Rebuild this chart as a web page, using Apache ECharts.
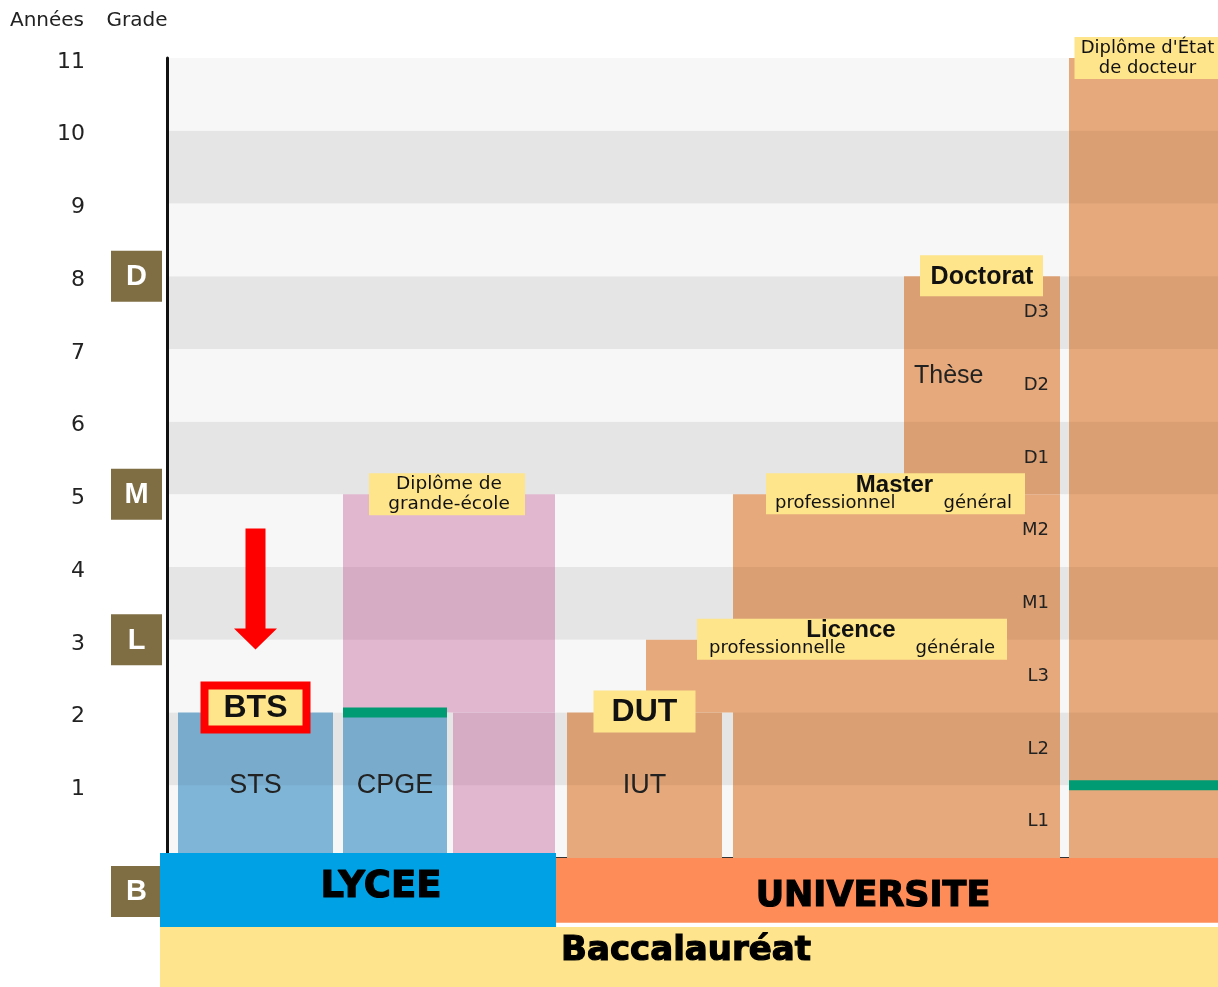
<!DOCTYPE html>
<html><head><meta charset="utf-8">
<script src="https://cdn.jsdelivr.net/npm/echarts@6/dist/echarts.min.js"></script>
<style>html,body{margin:0;padding:0;background:#fff}#c{width:1218px;height:987px}</style>
</head><body><div id="c"></div>
<script>
// ---------- data ----------
const yearTicks = [1,2,3,4,5,6,7,8,9,10,11];
const gradeNames = ['D','M','L','B'];
const gradeYears = [8,5,3,-0.46];
// program columns (x in abstract column units, y in years after the bac)
const programNames  = ['STS','CPGE','Grande école','Grande école','IUT','Licence','Master','Doctorat',"Doctorat d'État"];
const programStart  = [1.1, 17.6, 17.6, 28.6, 40.0, 47.9, 56.6, 73.7, 90.2];
const programEnd    = [16.6, 28.0, 38.8, 38.8, 55.5, 89.3, 89.3, 89.3, 105.1];
const programFrom   = [0, 0, 2, 0, 0, 2, 0, 5, 0];
const programTo     = [2, 2, 5, 2, 2, 3, 5, 8, 11];
const programFamily = ['lycee','lycee','ecole','ecole','univ','univ','univ','univ','univ'];
const diplomaNames   = ['BTS','Diplôme de\ngrande-école','DUT','Licence','Master','Doctorat',"Diplôme d'État\nde docteur"];
const diplomaTracks  = ['','','','professionnelle|générale','professionnel|général','',''];
const diplomaProgram = [0, 2, 4, 5, 6, 7, 8];
const innerNames   = ['STS','CPGE','IUT','Thèse'];
const innerProgram = [0, 1, 4, 7];
const innerYears   = [1, 1, 1, 6.62];
const yearCodes      = ['L1','L2','L3','M1','M2','D1','D2','D3'];
const yearCodeValues = [0.5,1.5,2.5,3.5,4.5,5.5,6.5,7.5];
const bridgeProgram = [1, 8];
const bridgeYears   = [2, 1];
const baseNames = ['LYCEE','UNIVERSITE','Baccalauréat'];
const baseStart = [-0.7, 38.9, -0.7];
const baseEnd   = [38.9, 105.1, 105.1];
const baseFrom  = [-0.95, -0.89, -2.0];
const baseTo    = [0.07, 0, -0.95];
const shadedYears = [1,3,5,7,9];

// ---------- styles ----------
const FAMILY_COLORS = {lycee:'#7fb5d7', ecole:'#e1b6cf', univ:'#e6a97b'};
const BASE_COLORS = ['#00a2e5','#fd8c58','#fee48c'];
const YELLOW = '#fee58b';
const LS = '"Liberation Sans", Arial, sans-serif';
const DV = '"DejaVu Sans", sans-serif';

function box(x, y, w, h, fill) { return {type:'rect', shape:{x:x, y:y, width:w, height:h}, style:{fill:fill}}; }
function txt(x, y, text, font, align, extra) {
  return {type:'text', x:x, y:y, style:Object.assign({text:text, font:font, fill:'#111', align:align || 'center', verticalAlign:'middle'}, extra || {})};
}
function colCenter(api, p) {
  const a = api.coord([programStart[p], 0]), b = api.coord([programEnd[p], 0]);
  return (a[0] + b[0]) / 2;
}

const chart = echarts.init(document.getElementById('c'));
const option = {
  animation: false,
  grid: {left:167, right:0, top:58, bottom:129},
  xAxis: {type:'value', min:0, max:105.1,
    axisLine:{show:true, lineStyle:{color:'#333', width:2}},
    axisTick:{show:false}, axisLabel:{show:false}, splitLine:{show:false}},
  yAxis: {type:'value', min:0, max:11, interval:1,
    axisLine:{show:true, lineStyle:{color:'#111', width:3}},
    axisTick:{show:false}, splitLine:{show:false},
    splitArea:{show:true, areaStyle:{color:['#f7f7f7','#f2f2f2']}},
    axisLabel:{margin:82, fontFamily:'DejaVu Sans', fontSize:22, color:'#222', verticalAlign:'top', lineHeight:8,
      formatter: v => yearTicks.indexOf(v) >= 0 ? String(v) : ''}},
  graphic: [
    {type:'text', x:47, y:21, style:{text:'Années', font:'20px '+DV, fill:'#222', align:'center', verticalAlign:'middle'}},
    {type:'text', x:137, y:21, style:{text:'Grade', font:'20px '+DV, fill:'#222', align:'center', verticalAlign:'middle'}}
  ],
  series: [
    { // program blocks
      type:'custom', z:2, silent:true, clip:false,
      data: programNames.map((n,i) => [programStart[i], programEnd[i], programFrom[i], programTo[i], i]),
      renderItem: (params, api) => {
        const i = api.value(4);
        const a = api.coord([api.value(0), api.value(3)]);
        const b = api.coord([api.value(1), api.value(2)]);
        return box(a[0], a[1], b[0]-a[0], b[1]-a[1], FAMILY_COLORS[programFamily[i]]);
      }
    },
    { // band shading over everything in the plot
      type:'custom', z:3, silent:true,
      data: shadedYears.map(y => [y]),
      renderItem: (params, api) => {
        const cs = params.coordSys;
        const a = api.coord([0, api.value(0) + 1]);
        const b = api.coord([0, api.value(0)]);
        return box(cs.x, a[1], cs.width, b[1]-a[1], 'rgba(0,0,0,0.05)');
      }
    },
    { // passerelles (green)
      type:'custom', z:4, silent:true, clip:false,
      data: bridgeProgram.map((p,i) => [i]),
      renderItem: (params, api) => {
        const i = api.value(0), p = bridgeProgram[i];
        const a = api.coord([programStart[p], bridgeYears[i]]);
        const b = api.coord([programEnd[p], bridgeYears[i]]);
        return box(a[0], a[1]-5, b[0]-a[0], 10, '#009b72');
      }
    },
    { // names inside columns
      type:'custom', z:4, silent:true, clip:false,
      data: innerNames.map((n,i) => [i]),
      renderItem: (params, api) => {
        const i = api.value(0), p = innerProgram[i];
        const y = api.coord([0, innerYears[i]])[1];
        if (innerNames[i] === 'Thèse') {
          const x0 = api.coord([programStart[p], 0])[0];
          return txt(x0 + 10, y, innerNames[i], '25px '+LS, 'left', {fill:'#222'});
        }
        return txt(colCenter(api, p), y, innerNames[i], '27px '+LS, 'center', {fill:'#222'});
      }
    },
    { // year codes L1..D3
      type:'custom', z:4, silent:true,
      data: yearCodes.map((c,i) => [i]),
      renderItem: (params, api) => {
        const i = api.value(0);
        const x = api.coord([programEnd[6], 0])[0] - 11;
        const y = api.coord([0, yearCodeValues[i]])[1];
        return txt(x, y, yearCodes[i], '18px '+DV, 'right', {fill:'#222'});
      }
    },
    { // diploma labels
      type:'custom', z:5, silent:true, clip:false,
      data: diplomaNames.map((n,i) => [i]),
      renderItem: (params, api) => {
        const i = api.value(0), p = diplomaProgram[i];
        const name = diplomaNames[i];
        const cx = colCenter(api, p);
        const cy = api.coord([0, programTo[p]])[1];
        const ch = [];
        if (name === 'BTS') {
          const y = cy - 5;
          ch.push(box(cx-55, y-26, 110, 52, '#ff0000'));
          ch.push(box(cx-47, y-18, 94, 36, YELLOW));
          ch.push(txt(cx, y+1, name, 'bold 32px '+LS));
          // red arrow pointing at the BTS label
          const tx = cx, ty = y - 26 - 32;
          ch.push({type:'polygon', shape:{points:[[tx-10,ty-121],[tx+10,ty-121],[tx+10,ty-21],[tx+21.5,ty-21],[tx,ty],[tx-21.5,ty-21],[tx-10,ty-21]]}, style:{fill:'#ff0000'}});
        } else if (name === 'DUT') {
          ch.push(box(cx-51, cy-22, 102, 42, YELLOW));
          ch.push(txt(cx, cy, name, 'bold 32px '+LS));
        } else if (name === 'Doctorat') {
          ch.push(box(cx-62, cy-21, 123, 41, YELLOW));
          ch.push(txt(cx, cy+1, name, 'bold 25px '+LS));
        } else if (diplomaTracks[i]) {
          const w = name === 'Licence' ? 310 : 259;
          const l = cx - 1 - w/2, r = l + w;
          const parts = diplomaTracks[i].split('|');
          ch.push(box(l, cy-21, w, 41, YELLOW));
          ch.push(txt(cx - 2, cy-9, name, 'bold 24px '+LS));
          ch.push(txt(l + (name === 'Licence' ? 12 : 9), cy+9, parts[0], '18px '+DV, 'left'));
          ch.push(txt(r - (name === 'Licence' ? 12 : 13), cy+9, parts[1], '18px '+DV, 'right'));
        } else if (p === 8) {
          ch.push(box(cx-69, cy-21, 170, 42, YELLOW));
          ch.push(txt(cx+4, cy, name, '18px '+DV, 'center', {lineHeight:20}));
        } else {
          ch.push(box(cx-80, cy-21, 156, 42, YELLOW));
          ch.push(txt(cx, cy, name, '18.5px '+DV, 'center', {lineHeight:20}));
        }
        return {type:'group', children:ch};
      }
    },
    { // grade boxes
      type:'custom', z:5, silent:true, clip:false,
      data: gradeNames.map((g,i) => [i]),
      renderItem: (params, api) => {
        const i = api.value(0);
        const ax = params.coordSys.x;
        const y = api.coord([0, gradeYears[i]])[1];
        return {type:'group', children:[
          box(ax-56, y-25.5, 51, 51, '#7f6e43'),
          txt(ax-30.5, y+1, gradeNames[i], 'bold 29px '+LS, 'center', {fill:'#fff'})
        ]};
      }
    },
    { // base blocks: LYCEE / UNIVERSITE / Baccalauréat
      type:'custom', z:6, silent:true, clip:false,
      data: baseNames.map((n,i) => [i]),
      renderItem: (params, api) => {
        const i = api.value(0);
        const a = api.coord([baseStart[i], baseTo[i]]);
        const b = api.coord([baseEnd[i], baseFrom[i]]);
        const dx = [23, -14, -3][i], dy = [-3, 7, -14][i];
        const size = [37, 35, 34][i];
        return {type:'group', children:[
          box(a[0], a[1], b[0]-a[0], b[1]-a[1], BASE_COLORS[i]),
          txt((a[0]+b[0])/2 + dx, (a[1]+b[1])/2 + dy, baseNames[i], 'bold ' + size + 'px '+DV, 'center', {fill:'#000', stroke:'#000', lineWidth:1.2})
        ]};
      }
    }
  ]
};
chart.setOption(option);
</script>
</body></html>
